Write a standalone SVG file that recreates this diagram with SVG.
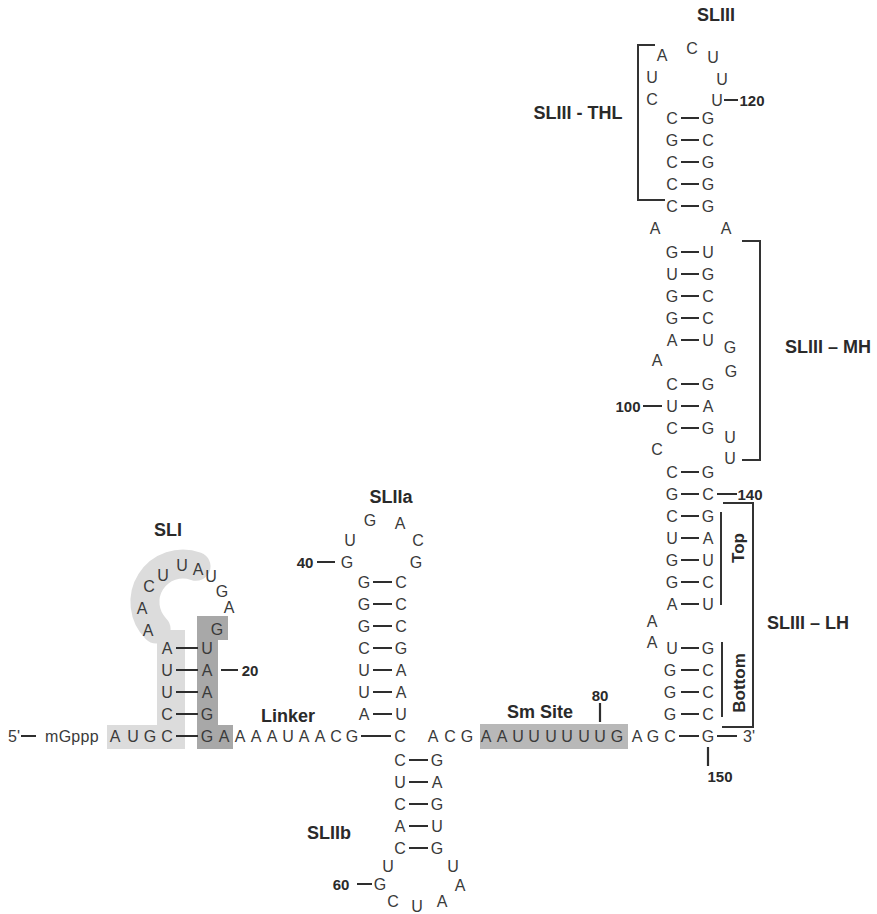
<svg xmlns="http://www.w3.org/2000/svg" width="877" height="914" viewBox="0 0 877 914">
<style>
text{font-family:"Liberation Sans",Arial,sans-serif}
.n{font-size:16px;fill:#3a3a3a;text-anchor:middle;dominant-baseline:central}
.s{font-size:16px;fill:#3a3a3a;dominant-baseline:central}
.lb{font-size:18px;font-weight:bold;fill:#2a2a2a;text-anchor:middle;dominant-baseline:central}
.num{font-size:15px;font-weight:bold;fill:#2a2a2a;text-anchor:middle;dominant-baseline:central}
.rot{font-size:17px;font-weight:bold;fill:#2a2a2a;text-anchor:middle;dominant-baseline:central}
.b{stroke:#2e2e2e;stroke-width:2.2;fill:none}
.br{stroke:#333;stroke-width:2;fill:none}
</style>
<rect width="877" height="914" fill="#fff"/>
<g id="shading">
<path d="M156.1,628.9 A38,38 0 0 1 196,566.3" stroke="#dcdcdc" stroke-width="29" stroke-linecap="round" fill="none"/>
<rect x="157" y="630" width="28" height="119" fill="#dcdcdc"/>
<rect x="107" y="725" width="78" height="24" fill="#dcdcdc"/>
<polygon points="197,616 228,616 228,640 218,640 218,725 233,725 233,749 197,749" fill="#a8a8a8"/>
<rect x="480" y="724" width="148" height="25" fill="#b8b8b8"/>
</g>
<g id="connectors">
<path class="b" d="M176,736H198M176,714H198M176,692H198M176,670H198M176,648H198"/>
<path class="b" d="M361,736H391M373,714H392M373,692H392M373,670H392M373,648H392M373,626H392M373,604H392M373,582H392"/>
<path class="b" d="M409,760H428M409,782H428M409,804H428M409,826H428M409,848H428"/>
<path class="b" d="M679,736H699M681,714H699M681,692H699M681,670H699M681,648H699M681,604H699M681,582H699M681,560H699M681,538H699M681,516H699M681,494H699M681,472H699M681,428H699M681,406H699M681,384H699M681,340H699M681,318H699M681,296H699M681,274H699M681,252H699M681,206H699M681,184H699M681,162H699M681,140H699M681,118H699"/>
<path class="b" d="M21,736H36M717,736H737M221,670H238M317,562H335M357,884H372M643,406H662M724,100H738M717,494H737M708,747V766M600,703V722"/>
</g>
<g id="main-strand">
<text class="s" x="8" y="736" font-size="13">5'</text>
<text class="s" x="45" y="736" letter-spacing="0.3">mGppp</text>
<text class="n" x="115" y="736">A</text>
<text class="n" x="133" y="736">U</text>
<text class="n" x="150" y="736">G</text>
<text class="n" x="167" y="736">C</text>
<text class="n" x="207" y="736">G</text>
<text class="n" x="224" y="736">A</text>
<text class="n" x="240" y="736">A</text>
<text class="n" x="256" y="736">A</text>
<text class="n" x="272" y="736">A</text>
<text class="n" x="288" y="736">U</text>
<text class="n" x="304" y="736">A</text>
<text class="n" x="320" y="736">A</text>
<text class="n" x="336" y="736">C</text>
<text class="n" x="352" y="736">G</text>
<text class="n" x="400" y="736">C</text>
<text class="n" x="433" y="736">A</text>
<text class="n" x="450" y="736">C</text>
<text class="n" x="467" y="736">G</text>
<text class="n" x="486" y="736">A</text>
<text class="n" x="502" y="736">A</text>
<text class="n" x="518" y="736">U</text>
<text class="n" x="534" y="736">U</text>
<text class="n" x="551" y="736">U</text>
<text class="n" x="567" y="736">U</text>
<text class="n" x="584" y="736">U</text>
<text class="n" x="600" y="736">U</text>
<text class="n" x="617" y="736">G</text>
<text class="n" x="637" y="736">A</text>
<text class="n" x="653" y="736">G</text>
<text class="n" x="670" y="736">C</text>
<text class="n" x="708" y="736">G</text>
<text class="s" x="743" y="736" font-size="13">3'</text>
<text class="lb" x="288" y="716">Linker</text>
<text class="lb" x="540" y="712">Sm Site</text>
<text class="num" x="600" y="695">80</text>
<text class="num" x="720" y="776">150</text>
</g>
<g id="SLI">
<text class="lb" x="168" y="530">SLI</text>
<text class="n" x="167" y="714">C</text><text class="n" x="207" y="714">G</text>
<text class="n" x="167" y="692">U</text><text class="n" x="207" y="692">A</text>
<text class="n" x="167" y="670">U</text><text class="n" x="207" y="670">A</text>
<text class="n" x="167" y="648">A</text><text class="n" x="207" y="648">U</text>
<text class="n" x="148" y="630">A</text>
<text class="n" x="142" y="608">A</text>
<text class="n" x="149" y="586">C</text>
<text class="n" x="163" y="575">U</text>
<text class="n" x="182" y="565">U</text>
<text class="n" x="198" y="569">A</text>
<text class="n" x="211" y="576">U</text>
<text class="n" x="222" y="591">G</text>
<text class="n" x="229" y="607">A</text>
<text class="n" x="217" y="629">G</text>
<text class="num" x="250" y="670">20</text>
</g>
<g id="SLIIa">
<text class="lb" x="391" y="497">SLIIa</text>
<text class="n" x="364" y="714">A</text><text class="n" x="401" y="714">U</text>
<text class="n" x="364" y="692">U</text><text class="n" x="401" y="692">A</text>
<text class="n" x="364" y="670">U</text><text class="n" x="401" y="670">A</text>
<text class="n" x="364" y="648">C</text><text class="n" x="401" y="648">G</text>
<text class="n" x="364" y="626">G</text><text class="n" x="401" y="626">C</text>
<text class="n" x="364" y="604">G</text><text class="n" x="401" y="604">C</text>
<text class="n" x="364" y="582">G</text><text class="n" x="401" y="582">C</text>
<text class="n" x="347" y="562">G</text><text class="n" x="416" y="562">G</text>
<text class="n" x="350" y="540">U</text><text class="n" x="418" y="540">C</text>
<text class="n" x="370" y="520">G</text><text class="n" x="400" y="523">A</text>
<text class="num" x="305" y="562">40</text>
</g>
<g id="SLIIb">
<text class="lb" x="329" y="833">SLIIb</text>
<text class="n" x="400" y="760">C</text><text class="n" x="437" y="760">G</text>
<text class="n" x="400" y="782">U</text><text class="n" x="437" y="782">A</text>
<text class="n" x="400" y="804">C</text><text class="n" x="437" y="804">G</text>
<text class="n" x="400" y="826">A</text><text class="n" x="437" y="826">U</text>
<text class="n" x="400" y="848">C</text><text class="n" x="437" y="848">G</text>
<text class="n" x="388" y="866">U</text>
<text class="n" x="380" y="884">G</text>
<text class="n" x="393" y="901">C</text>
<text class="n" x="417" y="906">U</text>
<text class="n" x="442" y="901">A</text>
<text class="n" x="460" y="885">A</text>
<text class="n" x="453" y="866">U</text>
<text class="num" x="341" y="884">60</text>
</g>
<g id="SLIII">
<text class="lb" x="716" y="15">SLIII</text>
<text class="n" x="670" y="714">G</text><text class="n" x="708" y="714">C</text>
<text class="n" x="670" y="692">G</text><text class="n" x="708" y="692">C</text>
<text class="n" x="670" y="670">G</text><text class="n" x="708" y="670">C</text>
<text class="n" x="672" y="648">U</text><text class="n" x="708" y="648">G</text>
<text class="n" x="652" y="642">A</text>
<text class="n" x="652" y="621">A</text>
<text class="n" x="672" y="604">A</text><text class="n" x="708" y="604">U</text>
<text class="n" x="672" y="582">G</text><text class="n" x="708" y="582">C</text>
<text class="n" x="672" y="560">G</text><text class="n" x="708" y="560">U</text>
<text class="n" x="672" y="538">U</text><text class="n" x="708" y="538">A</text>
<text class="n" x="672" y="516">C</text><text class="n" x="708" y="516">G</text>
<text class="n" x="672" y="494">G</text><text class="n" x="708" y="494">C</text>
<text class="n" x="672" y="472">C</text><text class="n" x="708" y="472">G</text>
<text class="n" x="657" y="449">C</text><text class="n" x="730" y="458">U</text>
<text class="n" x="730" y="437">U</text>
<text class="n" x="672" y="428">C</text><text class="n" x="708" y="428">G</text>
<text class="n" x="672" y="406">U</text><text class="n" x="708" y="406">A</text>
<text class="n" x="672" y="384">C</text><text class="n" x="708" y="384">G</text>
<text class="n" x="657" y="360">A</text><text class="n" x="731" y="371">G</text>
<text class="n" x="730" y="347">G</text>
<text class="n" x="672" y="340">A</text><text class="n" x="708" y="340">U</text>
<text class="n" x="672" y="318">G</text><text class="n" x="708" y="318">C</text>
<text class="n" x="672" y="296">G</text><text class="n" x="708" y="296">C</text>
<text class="n" x="672" y="274">U</text><text class="n" x="708" y="274">G</text>
<text class="n" x="672" y="252">G</text><text class="n" x="708" y="252">U</text>
<text class="n" x="655" y="228">A</text><text class="n" x="726" y="228">A</text>
<text class="n" x="672" y="206">C</text><text class="n" x="708" y="206">G</text>
<text class="n" x="672" y="184">C</text><text class="n" x="708" y="184">G</text>
<text class="n" x="672" y="162">C</text><text class="n" x="708" y="162">G</text>
<text class="n" x="672" y="140">G</text><text class="n" x="708" y="140">C</text>
<text class="n" x="672" y="118">C</text><text class="n" x="708" y="118">G</text>
<text class="n" x="652" y="99">C</text>
<text class="n" x="652" y="77">U</text>
<text class="n" x="662" y="55">A</text>
<text class="n" x="692" y="48">C</text>
<text class="n" x="713" y="57">U</text>
<text class="n" x="722" y="79">U</text>
<text class="n" x="717" y="100">U</text>
<text class="num" x="752" y="100">120</text>
<text class="num" x="750" y="494">140</text>
<text class="num" x="628" y="406">100</text>
</g>
<g id="brackets">
<path class="br" d="M655,45H638V200H665"/>
<text class="lb" x="578" y="113">SLIII - THL</text>
<path class="br" d="M742,241H760V460H742"/>
<text class="lb" x="828" y="347">SLIII – MH</text>
<path class="br" d="M723,503H753V727H722"/>
<path class="br" d="M721,512V605M722,642V717"/>
<text class="rot" transform="translate(738,548) rotate(-90)">Top</text>
<text class="rot" transform="translate(739,683) rotate(-90)">Bottom</text>
<text class="lb" x="808" y="623">SLIII – LH</text>
</g>
</svg>
